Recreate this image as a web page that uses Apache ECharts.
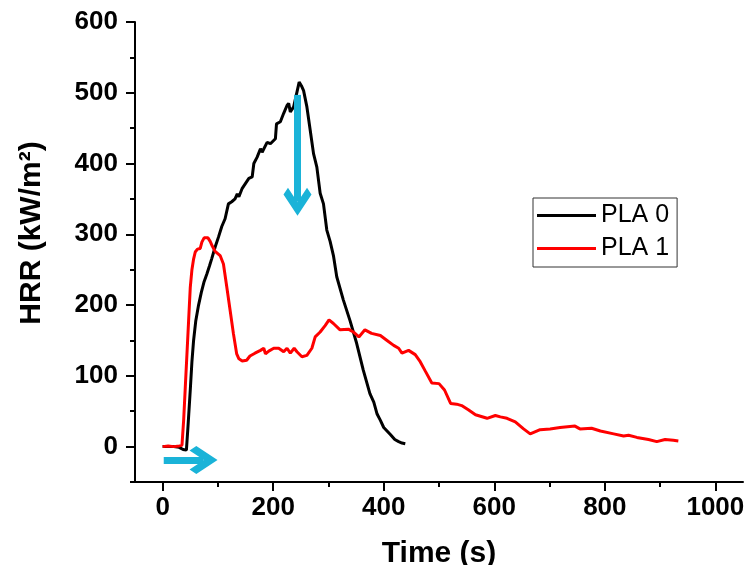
<!DOCTYPE html>
<html>
<head>
<meta charset="utf-8">
<script src="https://cdn.jsdelivr.net/npm/echarts@6/dist/echarts.min.js"></script>
<style>html,body{margin:0;padding:0;background:#fff}#c{width:744px;height:565px}</style>
</head>
<body>
<div id="c"></div>
<script>
// ---- data ----
const seriesNames = ['PLA 0', 'PLA 1'];
const time0 = [0,10,20,30,37,43,46,50,53,56,60,65,70,75,80,85,89,95,101,107,113,119,125,131,135,138,144,150,156,162,165,171,177,180,189,195,204,206,213,219,225,228,231,237,243,247,251,255,261,267,273,279,285,291,297,303,309,315,327,339,351,363,375,382,388,394,400,412,420,427,433,439];
const hrr0  = [0,0,0,-1,-4,-5,30,80,120,150,178,200,218,233,244,256,266,282,296,311,322,343,346,350,357,353,365,372,379,381,400,409,421,416,430,428,435,456,459,471,482,485,473,480,501,515,510,503,480,447,414,395,358,343,306,290,270,240,207,178,146,108,75,63,46,37,27,17,10,7,5,4];
const time1 = [0,10,20,30,35,38,41,44,47,50,53,56,59,63,68,71,75,82,86,90,95,104,110,116,122,128,134,138,144,152,158,167,177,183,186,192,201,210,219,225,231,238,243,252,261,270,276,285,294,301,309,321,336,345,355,366,378,394,406,418,427,433,445,457,466,475,487,500,510,521,532,541,553,566,587,602,611,623,638,653,665,683,701,719,746,755,776,792,816,834,843,858,879,894,909,924,933];
const hrr1  = [0,1,0,1,2,37,84,131,178,225,250,265,275,279,280,289,295,295,290,283,276,270,258,226,193,160,131,124,121,122,128,132,136,139,131,135,139,139,134,139,132,139,134,127,129,139,155,162,171,179,174,165,166,162,155,165,160,157,150,143,139,132,136,130,120,107,90,89,80,61,60,58,52,45,40,44,42,40,35,25,18,24,25,27,29,25,26,22,18,15,16,13,10,7,10,9,8];
const xMajorTicks = [0,200,400,600,800,1000];
const xMinorTicks = [100,300,500,700,900];
const yMajorTicks = [0,100,200,300,400,500,600];
const yMinorTicks = [-50,50,150,250,350,450,550];
const arrowH = [[2,-19],[74,-19]];   // horizontal annotation arrow (data coords)
const arrowV = [[244,497],[244,346]]; // vertical annotation arrow (data coords)

const FONT = "'Liberation Sans', Arial, sans-serif";
const zip = (a,b) => a.map((v,i)=>[v,b[i]]);
const chevron = 'path://M50,0 L100,50 L84,66 L50,32 L16,66 L0,50 Z';

const labelStyle = {fontFamily:FONT, fontWeight:'bold', fontSize:26, color:'#000', formatter:(v)=>String(v)};
const lineStyleAxis = {color:'#000', width:2};

const chart = echarts.init(document.getElementById('c'), null, {renderer:'canvas'});
chart.setOption({
  animation:false,
  backgroundColor:'#fff',
  grid:{left:135, right:1, top:22, bottom:83, containLabel:false, outerBoundsMode:'none'},
  legend:{
    data:seriesNames, orient:'vertical', left:533, top:198,
    padding:[5,8,6,4], itemGap:8, itemWidth:59, itemHeight:3, icon:'rect',
    borderColor:'#333', borderWidth:1, backgroundColor:'#fff',
    textStyle:{fontFamily:FONT, fontSize:25, color:'#000', lineHeight:24}
  },
  xAxis:[{
    type:'value', min:-50, max:1050, position:'bottom',
    name:'Time (s)', nameLocation:'middle', nameGap:57,
    nameTextStyle:{fontFamily:FONT, fontWeight:'bold', fontSize:30, color:'#000'},
    axisLine:{show:true, onZero:false, lineStyle:lineStyleAxis},
    axisTick:{show:true, inside:false, length:9, lineStyle:lineStyleAxis, customValues:xMajorTicks},
    axisLabel:Object.assign({margin:13, customValues:xMajorTicks}, labelStyle),
    splitLine:{show:false}
  },{
    type:'value', min:-50, max:1050, position:'bottom',
    axisLine:{show:false, onZero:false},
    axisTick:{show:true, inside:false, length:5, lineStyle:lineStyleAxis, customValues:xMinorTicks},
    axisLabel:{show:false}, splitLine:{show:false}
  }],
  yAxis:[{
    type:'value', min:-50, max:600, position:'left',
    name:'HRR (kW/m²)', nameLocation:'middle', nameGap:88, nameRotate:90,
    nameTextStyle:{fontFamily:FONT, fontWeight:'bold', fontSize:30, color:'#000', padding:[0,0,0,38]},
    axisLine:{show:true, onZero:false, lineStyle:lineStyleAxis},
    axisTick:{show:true, inside:false, length:9, lineStyle:lineStyleAxis, customValues:yMajorTicks},
    axisLabel:Object.assign({margin:17, customValues:yMajorTicks}, labelStyle),
    splitLine:{show:false}
  },{
    type:'value', min:-50, max:600, position:'left', offset:0,
    axisLine:{show:false, onZero:false},
    axisTick:{show:true, inside:false, length:5, lineStyle:lineStyleAxis, customValues:yMinorTicks},
    axisLabel:{show:false}, splitLine:{show:false}
  }],
  series:[
    {name:seriesNames[0], type:'line', data:zip(time0,hrr0), showSymbol:false, symbol:'none',
     lineStyle:{color:'#000', width:3}, itemStyle:{color:'#000'}},
    {name:seriesNames[1], type:'line', data:zip(time1,hrr1), showSymbol:false, symbol:'none',
     lineStyle:{color:'#ff0000', width:3}, itemStyle:{color:'#ff0000'}},
    {type:'line', data:[], silent:true,
     markLine:{silent:true, animation:false, symbol:['none', chevron], symbolSize:[28,28],
       label:{show:false}, emphasis:{disabled:true},
       lineStyle:{color:'#1AB3D8', width:7, type:'solid'},
       data:[
         [{coord:arrowH[0]},{coord:arrowH[1]}],
         [{coord:arrowV[0]},{coord:arrowV[1]}]
       ]}}
  ]
});
</script>
</body>
</html>
